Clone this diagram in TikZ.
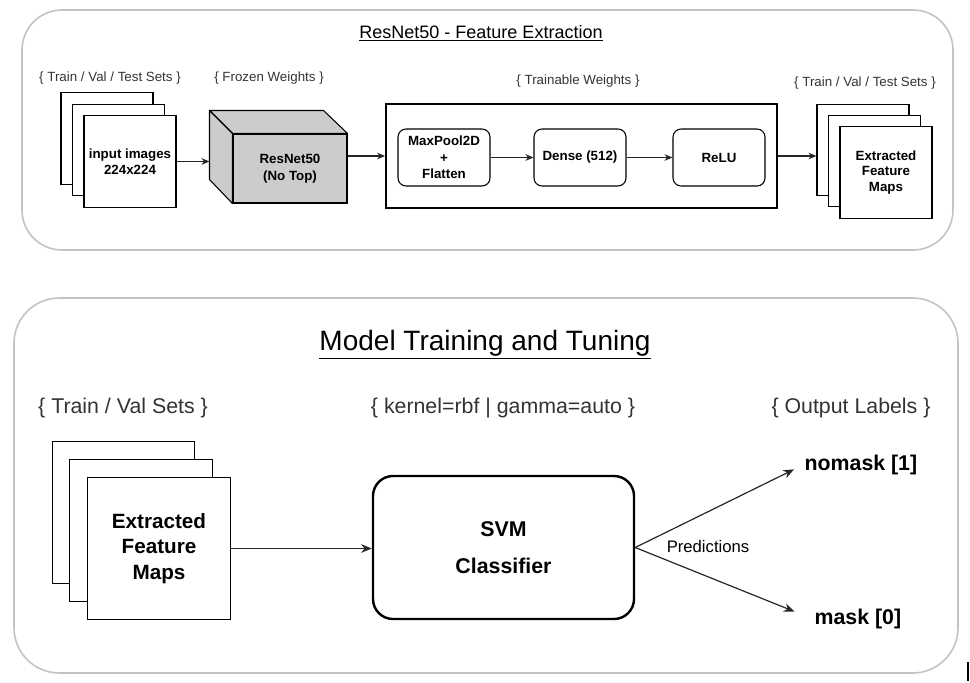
\documentclass[tikz,border=0pt]{standalone}
\usepackage{fontspec}
\setmainfont{Liberation Sans}
\usetikzlibrary{
    arrows.meta,
    positioning,
    calc
}
\definecolor{PanelGray}{RGB}{195,195,195}
\definecolor{CubeGray}{RGB}{204,204,204}
\definecolor{TagGray}{RGB}{51,51,51}
\tikzset{
  panel/.style  = {draw=PanelGray, line width=1.2pt},
  sheet/.style  = {draw, fill=white, minimum width=69pt, minimum height=68.5pt,
                   line width=0.8pt, align=center,
                   font=\bfseries\fontsize{10}{11.6}\selectfont},
  bsheet/.style = {sheet, minimum width=107pt, minimum height=107pt,
                   font=\bfseries\fontsize{15.5}{19}\selectfont},
  layer/.style  = {draw, rounded corners=6pt, minimum width=69pt,
                   minimum height=42.75pt, line width=0.8pt, align=center,
                   font=\bfseries\fontsize{10}{12.4}\selectfont},
  tag/.style    = {text=TagGray, font=\fontsize{10}{12}\selectfont},
  btag/.style   = {text=TagGray, font=\fontsize{16}{19}\selectfont},
  label/.style  = {anchor=west, inner sep=1pt, font=\bfseries\fontsize{16}{19}\selectfont},
  arr/.style    = {-{Stealth[length=6pt,width=5pt]}, line width=0.8pt, black!85},
  barr/.style   = {-{Stealth[length=8pt,width=6.5pt]}, line width=0.9pt, black!85}
}

\begin{document}
\begin{tikzpicture}[x=0.75pt,y=-0.75pt]
\useasboundingbox (0,0) rectangle (970,682);
% panels
\draw[panel, rounded corners=30pt] (22,10) rectangle (953,250);
\draw[panel, rounded corners=34pt] (14,298) rectangle (958,673);
\node[font=\fontsize{13.5}{16}\selectfont] (title1) at (481,33) {\underline{ResNet50 - Feature Extraction}};
\node[font=\fontsize{21}{25}\selectfont] (title2) at (485,345) {\underline{Model Training and Tuning}};

% feature extraction
\node[tag] (intag) at (110,78) {\{ Train / Val / Test Sets \}};
\node[sheet] (in1) at (107,138.5) {};
\node[sheet] (in2) at (118.5,150) {};
\node[sheet] (in3) at (130,161.5) {input images\\224x224};

\node[tag] (frozentag) at (269,78) {\{ Frozen Weights \}};
\node[draw, fill=CubeGray, line width=0.8pt, minimum width=85.5pt, minimum height=51.75pt,
      align=center, font=\bfseries\fontsize{10}{12.4}\selectfont] (resnet) at (290,168.5) {ResNet50\\(No Top)};
\draw[fill=CubeGray, line width=0.8pt, line join=round]
      (resnet.north west) -- ++(-23,-23) -- ++(114,0) -- (resnet.north east) -- cycle;
\draw[fill=CubeGray, line width=0.8pt, line join=round]
      (resnet.north west) -- ++(-23,-23) -- ++(0,69) -- (resnet.south west) -- cycle;
\coordinate (resin) at ($(resnet.west)+(-23,0)$);

\node[tag] (traintag) at (578,81) {\{ Trainable Weights \}};
\node[draw, line width=1.6pt, minimum width=293pt, minimum height=78pt] (train) at (581.5,156) {};
\node[layer] (pool) at (444,157.5) {MaxPool2D\\+\\Flatten};
\node[layer] (dense) at (580,157.5) {Dense (512)};
\node[layer] (relu) at (719,157.5) {ReLU};

\node[tag] (outtag) at (865,83) {\{ Train / Val / Test Sets \}};
\node[sheet] (out1) at (863,150) {};
\node[sheet] (out2) at (874.5,161) {};
\node[sheet] (out3) at (886,172.5) {Extracted\\Feature\\Maps};

\draw[arr] (in3.east) -- (in3.east -| resin);
\draw[arr] (resnet.east |- train.west) -- (train.west);
\draw[arr] (pool) -- (dense);
\draw[arr] (dense) -- (relu);
\draw[arr] (train.east) -- (train.east -| out1.west);

% model training
\node[btag] (fmtag) at (123,408) {\{ Train / Val Sets \}};
\node[btag] (svmtag) at (503,408) {\{ kernel=rbf | gamma=auto \}};
\node[btag] (labeltag) at (851,408) {\{ Output Labels \}};
\node[bsheet] (fm1) at (123.5,512.5) {};
\node[bsheet] (fm2) at (141,530.5) {};
\node[bsheet] (fm3) at (159,548.5) {Extracted\\Feature\\Maps};
\node[draw, line width=1.8pt, rounded corners=15pt, minimum width=195.75pt, minimum height=107.25pt,
      align=center, font=\bfseries\fontsize{16}{28}\selectfont] (svm) at (503.5,547.5) {SVM\\Classifier};
\node[font=\fontsize{12.5}{15}\selectfont] (pred) at (708,547) {Predictions};
\node[label] (nomask) at (803,465) {nomask [1]};
\node[label] (mask) at (813,619) {mask [0]};

\draw[barr] (fm3.east) -- (fm3.east -| svm.west);
\draw[barr, shorten >=7.5pt] (svm.east) -- (nomask.west);
\draw[barr, shorten >=15pt] (svm.east) -- (mask.west);

\draw[line width=1.5pt] (968,662) -- (968,681);
\end{tikzpicture}
\end{document}
